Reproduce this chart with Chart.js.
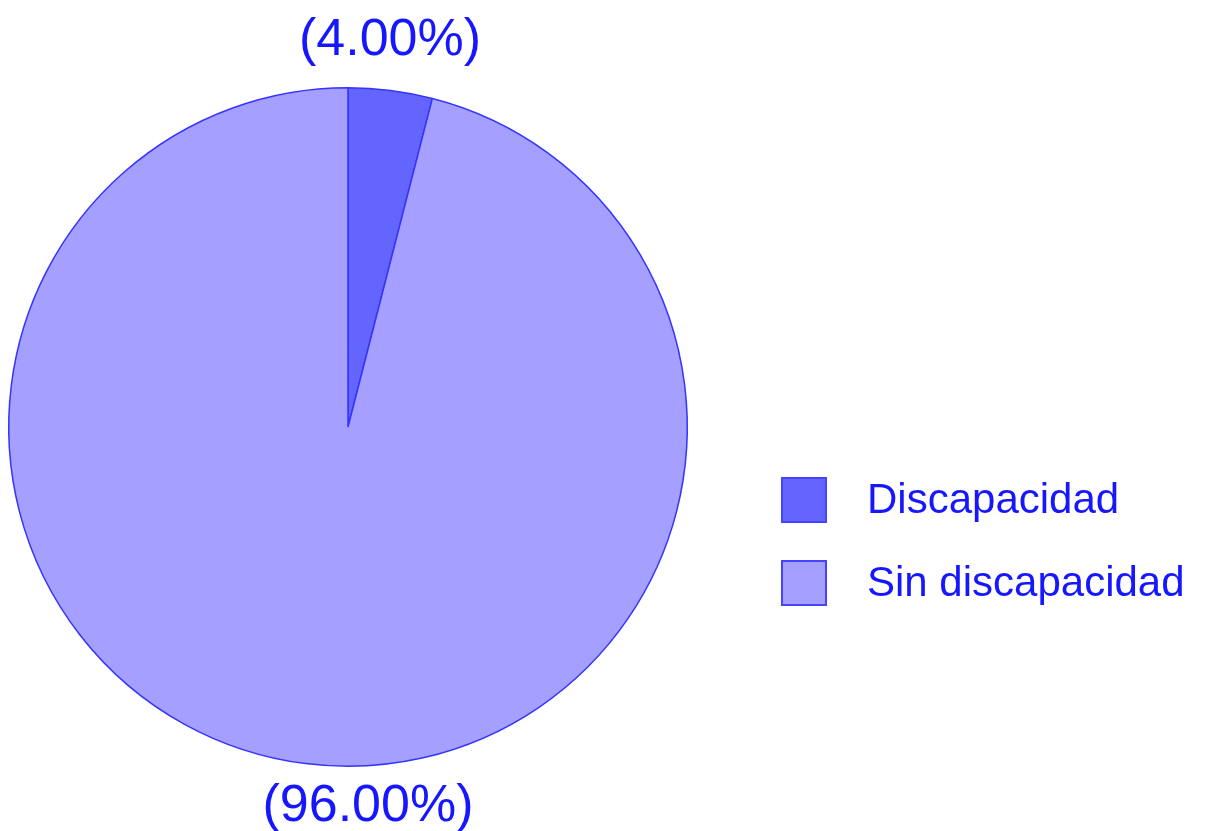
<!DOCTYPE html>
<html>
<head>
<meta charset="utf-8">
<script src="https://cdn.jsdelivr.net/npm/chart.js@4"></script>
<style>
    html, body { margin: 0; padding: 0; background: #ffffff; }
    #wrap { width: 1207px; height: 831px; position: relative; }
</style>
</head>
<body>
<div id="wrap"><canvas id="pie"></canvas></div>
<script>
(function () {

    var categories = ["Discapacidad", "Sin discapacidad"];
    var percents = [4.00, 96.00];
    var percentLabels = ["(4.00%)", "(96.00%)"];

    var fills = ["#6464ff", "#a59fff"];
    var textColor = "#1616ff";

    // etiquetas de porcentaje arriba / abajo del pastel
    var pctLabels = {
        id: "pctLabels",
        afterDatasetsDraw: function (chart, args, opts) {
            var ctx = chart.ctx;
            var arcs = chart.getDatasetMeta(0).data;
            ctx.save();
            ctx.fillStyle = textColor;
            ctx.font = "52px 'Liberation Sans', Arial, sans-serif";
            ctx.textAlign = "center";
            ctx.textBaseline = "middle";
            arcs.forEach(function (arc, i) {
                var mid = (arc.startAngle + arc.endAngle) / 2;
                var up = Math.sin(mid) < 0;
                var x = arc.x + opts.dx[i];
                var y = up ? arc.y - arc.outerRadius - opts.gap[i] : arc.y + arc.outerRadius + opts.gap[i];
                ctx.fillText(percentLabels[i], x, y);
            });
            ctx.restore();
        }
    };

    // leyenda a la derecha
    var sideLegend = {
        id: "sideLegend",
        afterDraw: function (chart, args, opts) {
            var ctx = chart.ctx;
            var ds = chart.data.datasets[0];
            ctx.save();
            ctx.font = "42px 'Liberation Sans', Arial, sans-serif";
            ctx.textBaseline = "middle";
            ctx.textAlign = "left";
            chart.data.labels.forEach(function (lab, i) {
                var cy = opts.top + i * opts.rowGap;
                ctx.fillStyle = ds.backgroundColor[i];
                ctx.fillRect(opts.left, cy - opts.box / 2, opts.box, opts.box);
                ctx.lineWidth = 2;
                ctx.strokeStyle = "#4444ff";
                ctx.strokeRect(opts.left + 1, cy - opts.box / 2 + 1, opts.box - 2, opts.box - 2);
                ctx.fillStyle = textColor;
                ctx.fillText(lab, opts.left + opts.box + 40, cy + 1);
            });
            ctx.restore();
        }
    };

    new Chart(document.getElementById("pie"), {
        type: "pie",
        data: {
            labels: categories,
            datasets: [{
                data: percents,
                backgroundColor: fills,
                borderColor: "#3434ff",
                borderWidth: 1.5
            }]
        },
        options: {
            responsive: true,
            maintainAspectRatio: false,
            animation: false,
            layout: { padding: { left: 8, top: 87, right: 519, bottom: 64 } },
            plugins: {
                legend: { display: false },
                tooltip: { enabled: false },
                pctLabels: { dx: [42, 20], gap: [47, 40] },
                sideLegend: { left: 781, top: 500, rowGap: 83, box: 46 }
            }
        },
        plugins: [pctLabels, sideLegend]
    });
})();
</script>
</body>
</html>
